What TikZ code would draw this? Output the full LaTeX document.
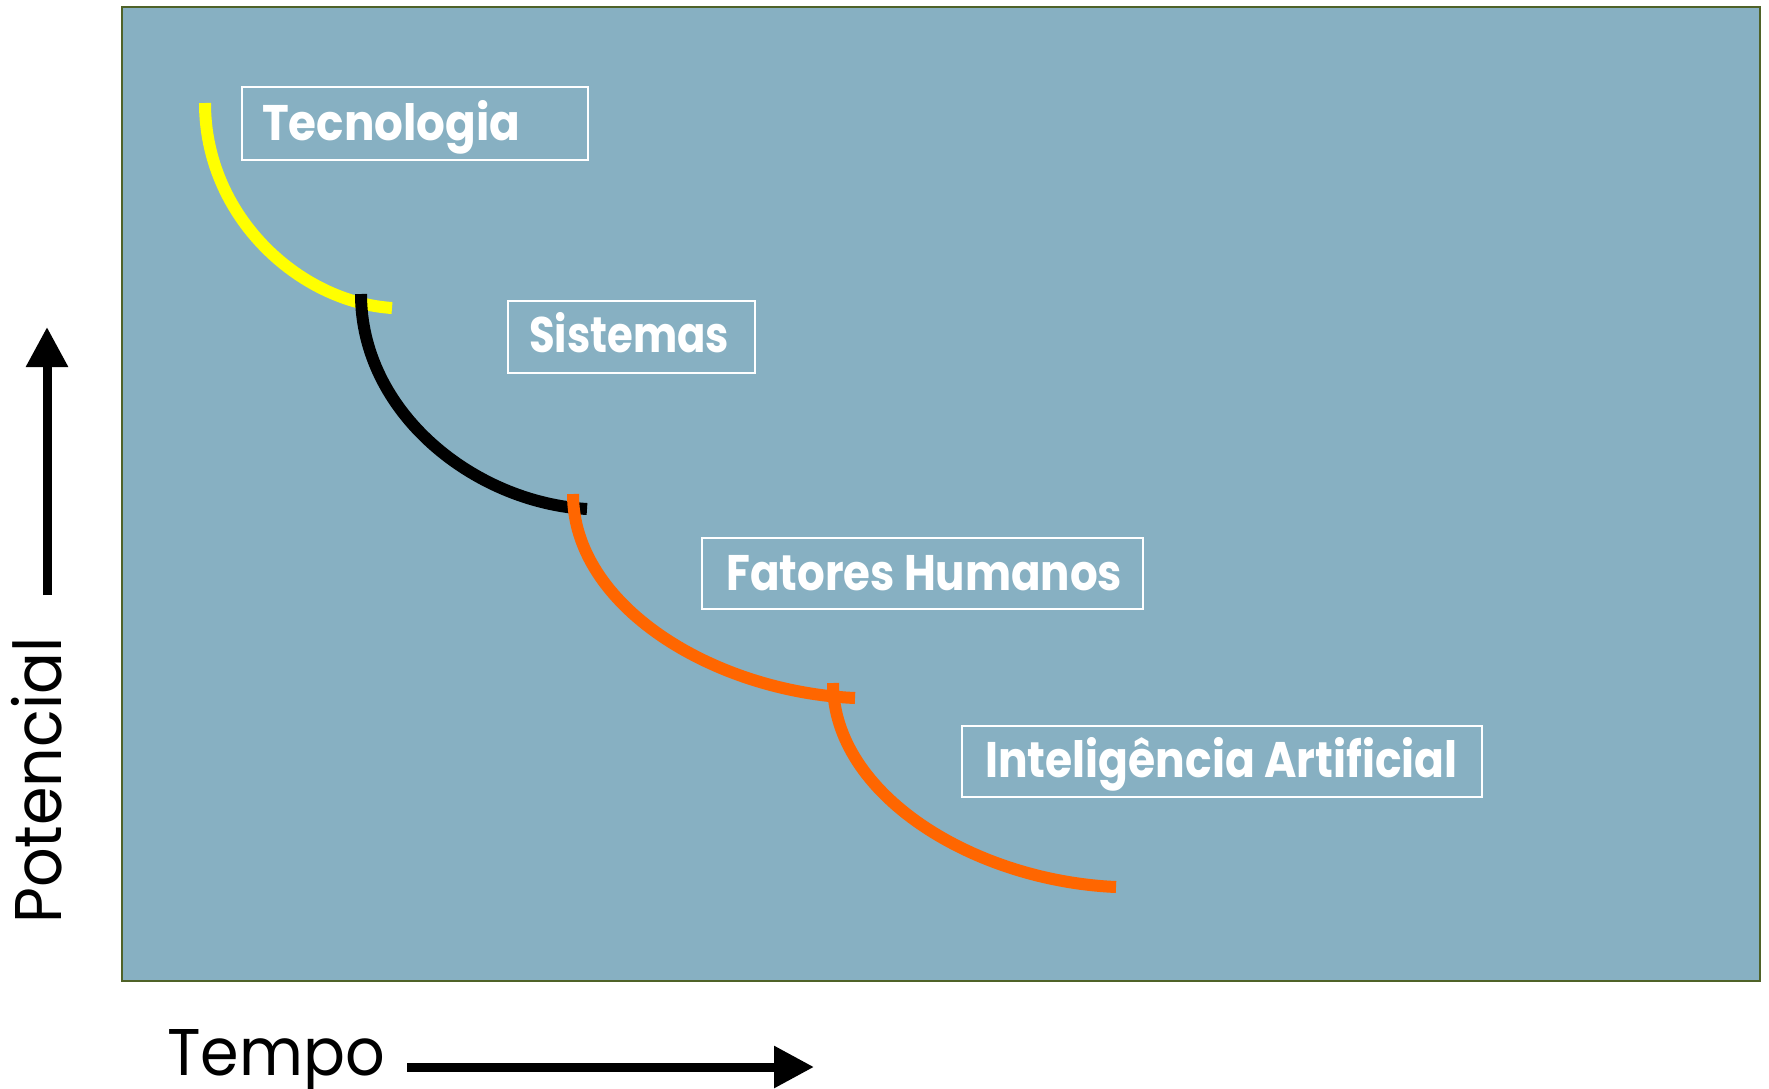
\documentclass[tikz,border=0pt]{standalone}
\usepackage{fontspec}
\usepackage{graphicx}
\setmainfont{Poppins}
\usetikzlibrary{arrows.meta}
\definecolor{panelfill}{RGB}{135,176,194}
\definecolor{panelborder}{RGB}{79,98,40}
\definecolor{curveorange}{RGB}{255,102,0}
\definecolor{curveyellow}{RGB}{255,255,0}
\newcommand{\hsq}[2]{\scalebox{#1}[1]{#2}}
\begin{document}
\begin{tikzpicture}[x=1pt,y=-1pt,
  labelbox/.style={draw=white, line width=2.5pt, inner sep=0pt, outer sep=0pt, anchor=north west},
  labeltext/.style={text=white, font=\fontsize{50}{60}\selectfont\bfseries, inner sep=0pt, anchor=base west},
  axistext/.style={text=black, font=\fontsize{66}{80}\selectfont, inner sep=0pt, anchor=base west},
  curve/.style={line width=12pt, line cap=butt},
  axisarrow/.style={line width=9pt, -{Triangle[length=40pt,width=40pt]}}]
\useasboundingbox (0,0) rectangle (1769,1088);
\fill[white] (0,0) rectangle (1769,1088);
\node[draw=panelborder, fill=panelfill, line width=2.5pt, minimum width=1638pt, minimum height=974pt, anchor=north west, inner sep=0pt, outer sep=0pt] (panel) at (122,7) {};
% curves
\coordinate (y0) at (205,103); \coordinate (y1) at (205,215.75); \coordinate (y2) at (298.5,301.85); \coordinate (y3) at (392,308);
\coordinate (b0) at (361,294); \coordinate (b1) at (361,412.25); \coordinate (b2) at (474,502.55); \coordinate (b3) at (587,509);
\coordinate (o0) at (573,494); \coordinate (o1) at (573,606.2); \coordinate (o2) at (714,691.9); \coordinate (o3) at (855,698);
\coordinate (p0) at (833,683); \coordinate (p1) at (833,795.2); \coordinate (p2) at (974.5,880.9); \coordinate (p3) at (1116,887);
\draw[curve, draw=curveyellow] (y0) .. controls (y1) and (y2) .. (y3);
\draw[curve, draw=black] (b0) .. controls (b1) and (b2) .. (b3);
\draw[curve, draw=curveorange] (o0) .. controls (o1) and (o2) .. (o3);
\draw[curve, draw=curveorange] (p0) .. controls (p1) and (p2) .. (p3);
% label boxes
\node[labelbox, minimum width=346pt, minimum height=73pt] (boxtec) at (242,87) {};
\node[labeltext] (txttec) at (262,140) {\hsq{0.905}{Tecnologia}};
\node[labelbox, minimum width=247pt, minimum height=72pt] (boxsis) at (508,301) {};
\node[labeltext] (txtsis) at (529,352) {\hsq{0.835}{Sistemas}};
\node[labelbox, minimum width=441pt, minimum height=71pt] (boxfat) at (702,538) {};
\node[labeltext] (txtfat) at (726,590) {\hsq{0.871}{Fatores Humanos}};
\node[labelbox, minimum width=520pt, minimum height=71pt] (boxia) at (962,726) {};
\node[labeltext] (txtia) at (985,777) {\hsq{0.88}{Inteligência Artificial}};
% axes
\node[axistext] (tempo) at (167,1075) {\hsq{0.94}{Tempo}};
\node[axistext, rotate=90] (potencial) at (61,924) {\hsq{0.94}{Potencial}};
\coordinate (vbot) at (47,595); \coordinate (vtop) at (47,327);
\draw[axisarrow] (vbot) -- (vtop);
\coordinate (hleft) at (407,1067); \coordinate (hright) at (814,1067);
\draw[axisarrow] (hleft) -- (hright);
\end{tikzpicture}
\end{document}
